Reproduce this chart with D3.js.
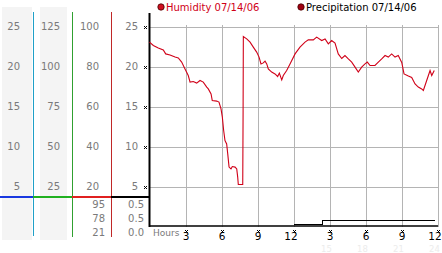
<!DOCTYPE html>
<html>
<head>
<meta charset="utf-8">
<script src="https://cdn.jsdelivr.net/npm/d3@7"></script>
<style>
  body { margin: 0; background: #fff; }
  svg { display: block; font-family: "DejaVu Sans", Verdana, sans-serif; }
</style>
</head>
<body>
<div id="vis"></div>
<script>
const hours = [0, 0.32, 0.73, 1.15, 1.35, 1.71, 2.13, 2.4, 2.68, 2.96, 3.23, 3.38, 3.65, 3.93,
  4.21, 4.48, 4.77, 4.9, 5.13, 5.23, 5.6, 5.79, 5.96, 6.07, 6.18, 6.29, 6.43, 6.52, 6.63,
  6.79, 6.9, 7.13, 7.27, 7.35, 7.4, 7.77, 7.8, 7.82, 8.1, 8.38, 8.65, 8.93, 9.13, 9.29, 9.48,
  9.63, 9.77, 9.9, 10.18, 10.46, 10.68, 10.82, 11.02, 11.15, 11.43, 11.71, 12.13, 12.54,
  12.96, 13.23, 13.65, 13.93, 14.35, 14.63, 14.9, 15.18, 15.46, 15.73, 16.02, 16.29, 16.57,
  16.85, 17.13, 17.4, 17.68, 17.96, 18.15, 18.38, 18.79, 19.07, 19.35, 19.63, 19.9, 20.18,
  20.46, 20.73, 21.02, 21.21, 21.57, 21.85, 22.13, 22.4, 22.68, 22.82, 23.1, 23.38, 23.52, 23.73];
const humidity = [92.2, 90.5, 89.3, 88.3, 86.3, 85.8, 84.7, 84.3, 82.2, 78.8, 75.5, 72.2, 72.5, 71.7,
  73, 72.2, 69.7, 68.8, 66.3, 63, 62.7, 62.2, 58.8, 54.7, 48, 43, 41.3, 36.3, 29.7,
  28.8, 30, 29.7, 28.8, 24.7, 21, 21, 58, 95, 93.8, 92.2, 89.7, 87.2, 84.7, 81.3, 81.8,
  82.7, 81.3, 78.8, 77.2, 76.3, 75, 76.7, 73.3, 75.5, 78, 81.3, 86.3, 89.7,
  92.2, 93.3, 93.3, 94.7, 93, 93.8, 91.3, 93, 91.7, 86.3, 84, 85.5, 83.8,
  82.2, 79.7, 77.2, 79.7, 81.3, 82.2, 80.5, 80.5, 82.2, 83.8, 85.5, 84.7, 86.3,
  84.7, 85.5, 82, 76.3, 75.2, 74.5, 71.3, 69.7, 68.8, 68, 73, 78, 75.5, 78];

const precipHours = [12, 14.45, 23.8];
const precip = [0, 0.5, 0.5];

const col1Ticks = [5, 10, 15, 20, 25];
const col2Ticks = [25, 50, 75, 100, 125];
const col3Ticks = [20, 40, 60, 80, 100];
const col4Ticks = [5, 10, 15, 20, 25];
const humidityStats = ['95', '78', '21'];
const precipStats = ['0.5', '0.5', '0.0'];
const hourTicks = [3, 6, 9, 12, 15, 18, 21, 24];
const legendLabels = ['Humidity 07/14/06', 'Precipitation 07/14/06'];

const W = 442, H = 253;
const red = '#d00018';

const svg = d3.select('#vis').append('svg')
    .attr('width', W)
    .attr('height', H);

const x = d3.scaleLinear().domain([0, 24]).range([149.5, 437.5]);
const y = d3.scaleLinear().domain([0, 25]).range([226.5, 26.5]);
const y2 = d3.scaleLinear().domain([0, 125]).range(y.range());
const yH = d3.scaleLinear().domain([0, 100]).range(y.range());

// left panel backgrounds
svg.append('rect').attr('x', 2).attr('y', 7).attr('width', 30).attr('height', 233).attr('fill', '#f4f4f4');
svg.append('rect').attr('x', 40).attr('y', 7).attr('width', 27).attr('height', 233).attr('fill', '#f4f4f4');

function column(scale, ticks, right) {
  const g = svg.append('g')
      .attr('transform', `translate(${right}, 0)`)
      .call(d3.axisLeft(scale).tickValues(ticks).tickSize(0).tickPadding(0));
  g.select('.domain').remove();
  g.selectAll('text')
      .attr('fill', '#7a7a7a')
      .attr('font-size', 10)
      .attr('font-family', '"DejaVu Sans", Verdana, sans-serif');
}
column(y, col1Ticks, 20);
column(y2, col2Ticks, 60);
column(yH, col3Ticks, 99);
column(y, col4Ticks, 138);

// coloured separators
const seps = [{x: 33.5, c: '#20a0c8', y1: 12, y2: 236}, {x: 72.5, c: '#30a030', y1: 12, y2: 237}, {x: 111.5, c: '#c02828', y1: 12, y2: 237}];
svg.selectAll('.sep')
  .data(seps)
  .join('line')
    .attr('x1', d => d.x).attr('x2', d => d.x)
    .attr('y1', d => d.y1).attr('y2', d => d.y2)
    .attr('stroke', d => d.c)
    .attr('stroke-width', 1);

const hsegs = [{a: 0, b: 33, c: '#1838e0'}, {a: 33, b: 72, c: '#20b020'}, {a: 72, b: 111, c: '#e02020'}, {a: 111, b: 149, c: '#000'}];
svg.selectAll('.hseg')
  .data(hsegs)
  .join('line')
    .attr('x1', d => d.a).attr('x2', d => d.b)
    .attr('y1', 197).attr('y2', 197)
    .attr('stroke', d => d.c)
    .attr('stroke-width', 2);

// stats
svg.selectAll('.hstat')
  .data(humidityStats)
  .join('text')
    .attr('x', 105).attr('y', (d, i) => 208 + i * 14)
    .attr('text-anchor', 'end').attr('font-size', 10).attr('fill', '#7a7a7a')
    .text(d => d);
svg.selectAll('.pstat')
  .data(precipStats)
  .join('text')
    .attr('x', 144).attr('y', (d, i) => 208 + i * 14)
    .attr('text-anchor', 'end').attr('font-size', 10).attr('fill', '#7a7a7a')
    .text(d => d);

// grid
const grid = svg.append('g').attr('shape-rendering', 'crispEdges');
grid.selectAll('.gh')
  .data(col4Ticks)
  .join('line')
    .attr('x1', x(0)).attr('x2', x(24))
    .attr('y1', d => Math.round(y(d)) + 0.5).attr('y2', d => Math.round(y(d)) + 0.5)
    .attr('stroke', '#b4b4b4');
grid.selectAll('.gv')
  .data(hourTicks)
  .join('line')
    .attr('x1', d => Math.round(x(d)) + 0.5).attr('x2', d => Math.round(x(d)) + 0.5)
    .attr('y1', 25).attr('y2', y(0))
    .attr('stroke', '#b4b4b4');

// axes
svg.append('line').attr('x1', 149.5).attr('x2', 149.5).attr('y1', 13).attr('y2', 227)
    .attr('stroke', '#000').attr('stroke-width', 2);
svg.append('line').attr('x1', 149).attr('x2', 438).attr('y1', 226).attr('y2', 226)
    .attr('stroke', '#000').attr('stroke-width', 1.5);

// tick glyphs
function glyph(cx, cy) {
  const g = svg.append('g').attr('shape-rendering', 'crispEdges');
  [[0, 0], [2, 0], [1, 1], [0, 2], [2, 2]].forEach(p => {
    g.append('rect').attr('x', cx - 1.5 + p[0]).attr('y', cy - 1.5 + p[1])
        .attr('width', 1).attr('height', 1).attr('fill', '#000');
  });
}
col4Ticks.forEach(d => glyph(145, Math.round(y(d)) + 0.5));
hourTicks.forEach(d => glyph(Math.round(x(d)) + 0.5, 231));

// bottom axis
const xa = svg.append('g')
    .attr('transform', 'translate(0, 233)')
    .call(d3.axisBottom(x).tickValues(hourTicks).tickSize(0).tickPadding(0)
      .tickFormat(d => d > 12 ? d - 12 : d));
xa.select('.domain').remove();
xa.selectAll('text').attr('font-size', 10.5).attr('fill', '#000')
    .attr('dx', d => (d % 12 === 0 ? -3 : 0))
    .attr('font-family', '"DejaVu Sans", Verdana, sans-serif');

svg.selectAll('.faint')
  .data(hourTicks.filter(d => d > 12))
  .join('text')
    .attr('x', d => x(d) - 3).attr('y', 252)
    .attr('text-anchor', 'middle').attr('font-size', 8.5).attr('fill', '#ececec')
    .text(d => d);

svg.append('text').attr('x', 153).attr('y', 236).attr('font-size', 9)
    .attr('fill', '#7a7a7a').text('Hours');

// series
const hLine = d3.line()
    .x((d, i) => x(hours[i]))
    .y(d => yH(d));
svg.append('path')
    .datum(humidity)
    .attr('d', hLine)
    .attr('fill', 'none')
    .attr('stroke', red)
    .attr('stroke-width', 1.1);

const pLine = d3.line()
    .curve(d3.curveStepAfter)
    .x((d, i) => x(precipHours[i]))
    .y(d => y(d) - 2);
svg.append('path')
    .datum(precip)
    .attr('d', pLine)
    .attr('fill', 'none')
    .attr('stroke', '#000')
    .attr('stroke-width', 1)
    .attr('shape-rendering', 'crispEdges');

// legend
const legend = [{x: 161, fill: '#d01020', text: red}, {x: 301, fill: '#a00010', text: '#000'}];
svg.selectAll('.ldot')
  .data(legend)
  .join('circle')
    .attr('cx', d => d.x).attr('cy', 7).attr('r', 3.2)
    .attr('fill', d => d.fill).attr('stroke', '#400').attr('stroke-width', 0.8);
svg.selectAll('.ltext')
  .data(legend)
  .join('text')
    .attr('x', d => d.x + 5).attr('y', 11)
    .attr('font-size', 10).attr('fill', d => d.text)
    .text((d, i) => legendLabels[i]);
</script>
</body>
</html>
